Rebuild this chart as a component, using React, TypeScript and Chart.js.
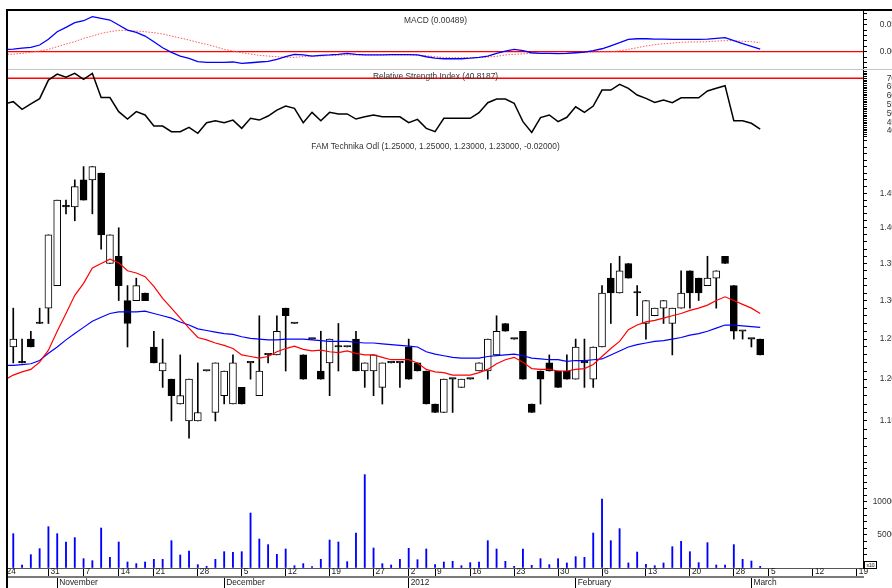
import React, { useEffect, useRef } from 'react';
import { Chart, registerables } from 'chart.js';

Chart.register(...registerables);

// ---------- layout constants ----------
const CANVAS_W = 940;
const PLOT_LEFT = 8;
const PLOT_RIGHT = 863;
const LABEL_RIGHT = 896; // right edge of right-axis labels (cut by the window at 892)
const X_MIN = -0.6;
const X_MAX = 96.7;
const IND_START = -1; // indicator arrays start one trading day before the first candle

// ---------- data ----------
const opens = [1.24, 1.22, 1.25, 1.27, 1.29, 1.32, 1.43, 1.43, 1.47, 1.47, 1.48, 1.35, 1.36, 1.30, 1.30, 1.31, 1.24, 1.21, 1.20, 1.17, 1.15, 1.15, 1.21, 1.16, 1.18, 1.17, 1.19, 1.22, 1.18, 1.23, 1.23, 1.29, 1.27, 1.23, 1.25, 1.21, 1.22, 1.24, 1.24, 1.25, 1.21, 1.21, 1.19, 1.22, 1.22, 1.24, 1.22, 1.21, 1.17, 1.16, 1.20, 1.19, 1.20, 1.21, 1.21, 1.23, 1.27, 1.25, 1.26, 1.17, 1.21, 1.22, 1.21, 1.21, 1.20, 1.22, 1.20, 1.24, 1.33, 1.31, 1.35, 1.31, 1.27, 1.28, 1.29, 1.27, 1.29, 1.34, 1.33, 1.32, 1.33, 1.36, 1.32, 1.26, 1.25, 1.25];
const highs = [1.29, 1.25, 1.26, 1.29, 1.39, 1.44, 1.44, 1.47, 1.49, 1.49, 1.48, 1.39, 1.40, 1.32, 1.33, 1.31, 1.26, 1.25, 1.20, 1.23, 1.20, 1.22, 1.21, 1.22, 1.21, 1.23, 1.19, 1.22, 1.28, 1.23, 1.28, 1.29, 1.27, 1.23, 1.25, 1.26, 1.25, 1.27, 1.24, 1.26, 1.22, 1.23, 1.22, 1.22, 1.22, 1.25, 1.22, 1.21, 1.17, 1.20, 1.20, 1.20, 1.20, 1.22, 1.25, 1.28, 1.27, 1.25, 1.26, 1.17, 1.21, 1.23, 1.21, 1.23, 1.25, 1.25, 1.24, 1.32, 1.35, 1.36, 1.35, 1.32, 1.30, 1.29, 1.30, 1.29, 1.34, 1.34, 1.33, 1.36, 1.34, 1.36, 1.32, 1.26, 1.25, 1.25];
const lows = [1.22, 1.22, 1.24, 1.27, 1.27, 1.32, 1.42, 1.41, 1.44, 1.42, 1.37, 1.35, 1.30, 1.24, 1.30, 1.30, 1.22, 1.19, 1.15, 1.17, 1.13, 1.15, 1.21, 1.15, 1.17, 1.17, 1.17, 1.20, 1.18, 1.22, 1.23, 1.21, 1.27, 1.20, 1.25, 1.20, 1.18, 1.21, 1.24, 1.21, 1.19, 1.18, 1.17, 1.22, 1.19, 1.20, 1.21, 1.17, 1.16, 1.16, 1.16, 1.19, 1.20, 1.21, 1.20, 1.23, 1.26, 1.25, 1.20, 1.16, 1.17, 1.21, 1.19, 1.20, 1.20, 1.19, 1.19, 1.24, 1.27, 1.31, 1.33, 1.28, 1.25, 1.28, 1.27, 1.23, 1.29, 1.29, 1.30, 1.32, 1.29, 1.35, 1.25, 1.25, 1.24, 1.23];
const closes = [1.25, 1.22, 1.24, 1.27, 1.39, 1.44, 1.43, 1.46, 1.44, 1.49, 1.39, 1.39, 1.32, 1.27, 1.32, 1.30, 1.22, 1.22, 1.18, 1.18, 1.20, 1.16, 1.21, 1.22, 1.21, 1.22, 1.17, 1.22, 1.21, 1.23, 1.26, 1.28, 1.27, 1.20, 1.25, 1.20, 1.25, 1.24, 1.24, 1.21, 1.22, 1.23, 1.22, 1.22, 1.22, 1.20, 1.21, 1.17, 1.16, 1.20, 1.20, 1.20, 1.20, 1.22, 1.25, 1.26, 1.26, 1.25, 1.20, 1.16, 1.20, 1.21, 1.19, 1.20, 1.24, 1.22, 1.24, 1.31, 1.31, 1.34, 1.33, 1.31, 1.30, 1.29, 1.30, 1.29, 1.31, 1.31, 1.31, 1.33, 1.34, 1.35, 1.26, 1.26, 1.25, 1.23];

const maFast = [1.199, 1.205, 1.209, 1.212, 1.221, 1.236, 1.26, 1.283, 1.307, 1.323, 1.344, 1.35, 1.356, 1.351, 1.34, 1.337, 1.332, 1.319, 1.303, 1.29, 1.277, 1.264, 1.252, 1.249, 1.245, 1.242, 1.238, 1.23, 1.228, 1.226, 1.228, 1.234, 1.238, 1.241, 1.237, 1.235, 1.236, 1.234, 1.233, 1.235, 1.232, 1.23, 1.23, 1.227, 1.224, 1.224, 1.224, 1.22, 1.212, 1.209, 1.208, 1.205, 1.205, 1.205, 1.208, 1.212, 1.219, 1.224, 1.227, 1.221, 1.213, 1.212, 1.212, 1.21, 1.21, 1.212, 1.213, 1.218, 1.228, 1.238, 1.247, 1.262, 1.268, 1.272, 1.274, 1.277, 1.28, 1.283, 1.287, 1.29, 1.294, 1.30, 1.305, 1.30, 1.295, 1.29, 1.283];
const maSlow = [1.217, 1.217, 1.218, 1.219, 1.223, 1.232, 1.24, 1.249, 1.257, 1.265, 1.273, 1.278, 1.283, 1.285, 1.285, 1.285, 1.286, 1.283, 1.28, 1.277, 1.272, 1.268, 1.263, 1.261, 1.259, 1.257, 1.256, 1.253, 1.251, 1.25, 1.249, 1.249, 1.25, 1.25, 1.25, 1.249, 1.248, 1.247, 1.247, 1.247, 1.246, 1.245, 1.245, 1.244, 1.243, 1.242, 1.241, 1.24, 1.234, 1.231, 1.229, 1.227, 1.226, 1.226, 1.226, 1.228, 1.229, 1.23, 1.231, 1.229, 1.226, 1.225, 1.224, 1.224, 1.222, 1.223, 1.223, 1.224, 1.225, 1.23, 1.235, 1.24, 1.243, 1.245, 1.247, 1.248, 1.25, 1.252, 1.255, 1.257, 1.26, 1.264, 1.268, 1.268, 1.267, 1.266, 1.265];

const macdLine = [0.004, 0.0048, 0.0065, 0.008, 0.0124, 0.023, 0.037, 0.045, 0.0537, 0.0574, 0.0648, 0.0618, 0.0587, 0.0494, 0.040, 0.0359, 0.029, 0.0185, 0.0074, -0.0011, -0.008, -0.0122, -0.0185, -0.0196, -0.0196, -0.0196, -0.019, -0.0215, -0.0204, -0.019, -0.0178, -0.0141, -0.0093, -0.0048, -0.006, -0.008, -0.0067, -0.006, -0.0048, -0.003, -0.0048, -0.006, -0.006, -0.006, -0.0055, -0.0055, -0.0055, -0.006, -0.0093, -0.0117, -0.013, -0.013, -0.013, -0.012, -0.0104, -0.008, -0.003, 0.0013, 0.0044, 0.0019, -0.0019, -0.003, -0.003, -0.0035, -0.003, -0.0019, -0.0006, 0.0019, 0.0055, 0.011, 0.0167, 0.023, 0.024, 0.024, 0.0235, 0.0235, 0.023, 0.023, 0.023, 0.023, 0.0235, 0.0248, 0.026, 0.0204, 0.0148, 0.010, 0.0049];
const macdSignal = [-0.005, -0.0045, -0.003, -0.001, 0.0013, 0.0044, 0.0093, 0.0143, 0.0185, 0.0248, 0.029, 0.034, 0.037, 0.0396, 0.0396, 0.0383, 0.037, 0.0352, 0.0328, 0.029, 0.0254, 0.0217, 0.0174, 0.0137, 0.0093, 0.0044, 0.0013, -0.0019, -0.0043, -0.0067, -0.008, -0.0093, -0.0104, -0.0104, -0.009, -0.008, -0.008, -0.007, -0.0065, -0.006, -0.006, -0.006, -0.006, -0.006, -0.006, -0.006, -0.006, -0.0065, -0.0075, -0.0093, -0.0105, -0.011, -0.011, -0.011, -0.0108, -0.010, -0.0085, -0.006, -0.0048, -0.004, -0.003, -0.003, -0.003, -0.003, -0.0025, -0.002, -0.0015, -0.0005, 0.0, 0.0, 0.0015, 0.0044, 0.0074, 0.0106, 0.013, 0.0148, 0.016, 0.0174, 0.018, 0.018, 0.0185, 0.0198, 0.0204, 0.0204, 0.0192, 0.0185, 0.0167];

const rsiValues = [55.5, 56.7, 52.3, 55.4, 58.4, 69, 72.4, 70.6, 72.8, 69.4, 72.8, 59, 59, 51, 46.8, 51, 49.1, 42.8, 42.8, 39.6, 39.6, 42.1, 38.7, 44.7, 45.8, 44.7, 46.2, 41.5, 47.2, 46.2, 48.5, 51.9, 54.2, 52.9, 44.7, 50.6, 45.8, 50.6, 49.7, 49.7, 46.8, 48.1, 49.1, 48.1, 48.1, 48.1, 44.7, 46.6, 41.5, 39.6, 47.2, 47.2, 47.2, 47.2, 50.4, 56.1, 58.2, 58.2, 55.8, 45.3, 39.2, 47.6, 49.1, 45.3, 47.8, 53.8, 50.6, 54.2, 63.3, 63.3, 66.6, 64.3, 60.5, 58.6, 56.3, 57.6, 56.1, 58.9, 58.9, 58.9, 62.8, 64.3, 65.8, 45.8, 45.8, 44.4, 41.1];

const volumes = [5200, 455, 2020, 2930, 6260, 5200, 3940, 4600, 1410, 1110, 6060, 1620, 3940, 910, 660, 910, 1310, 1310, 4140, 1970, 2580, 505, 250, 1310, 2470, 2370, 2470, 8330, 4390, 3540, 2070, 2880, 350, 660, 200, 1310, 4240, 3940, 960, 5300, 14140, 3030, 660, 455, 1310, 2980, 1260, 2880, 505, 910, 1010, 350, 810, 910, 4140, 2880, 1010, 250, 2880, 400, 1410, 505, 1410, 760, 1720, 1620, 5300, 10450, 4140, 5960, 760, 2420, 555, 350, 760, 3230, 4040, 2470, 810, 3840, 455, 455, 3540, 1310, 1060, 250];

const weekTickIdx = [-1, 4, 8, 12, 16, 21, 26, 31, 36, 41, 45, 48, 52, 57, 62, 67, 72, 77, 82, 86, 91, 96];
const weekTickLabels = ['24', '31', '7', '14', '21', '28', '5', '12', '19', '27', '2', '9', '16', '23', '30', '6', '13', '20', '28', '5', '12', '19'];
const monthTickIdx = [5, 24, 45, 64, 84];
const monthTickLabels = ['November', 'December', '2012', 'February', 'March'];

const macdMajor = [0, 0.05];
const rsiMajor = [40, 45, 50, 55, 60, 65, 70];
const priceMajor = [1.15, 1.2, 1.25, 1.3, 1.35, 1.4, 1.45];
const volumeMajor = [5000, 10000];

const macdTitle = 'MACD (0.00489)';
const rsiTitle = 'Relative Strength Index (40.8187)';
const priceTitle = 'FAM Technika Odl (1.25000, 1.25000, 1.23000, 1.23000, -0.02000)';

// ---------- helpers ----------
const FONT_FAMILY = '"Liberation Sans", Arial, Helvetica, sans-serif';
const FONT_SIZE = 8.4;
const tickFont = { family: FONT_FAMILY, size: FONT_SIZE };

function stepTicks(min: number, max: number, step: number, decimals: number) {
  const out: number[] = [];
  for (let k = Math.ceil(min / step - 1e-9); k * step <= max + 1e-9; k++) out.push(+(k * step).toFixed(decimals));
  return out;
}

function series(arr: number[], start: number) {
  return arr.map((v, i) => ({ x: i + start, y: v }));
}

function hline(v: number) {
  return [{ x: X_MIN, y: v }, { x: X_MAX, y: v }];
}

function hiddenX() {
  return { type: 'linear', axis: 'x', min: X_MIN, max: X_MAX, bounds: 'data', display: false, offset: false, grid: { offset: false } };
}

function rightAxis(o: any) {
  return {
    type: o.type || 'linear',
    position: 'right',
    min: o.min,
    max: o.max,
    bounds: 'data',
    beginAtZero: false,
    afterBuildTicks: (s: any) => { s.ticks = o.tickValues.map((v: number) => ({ value: v })); },
    afterFit: (s: any) => { s.width = LABEL_RIGHT - PLOT_RIGHT; s.paddingTop = 0; s.paddingBottom = 0; },
    border: { display: true, color: '#000', width: 1 },
    grid: { drawOnChartArea: false, drawTicks: true, tickLength: 4, color: '#000', tickWidth: 1 },
    ticks: {
      autoSkip: false,
      maxRotation: 0,
      font: tickFont,
      color: '#333',
      crossAlign: 'far',
      padding: 4,
      callback: (value: number) => {
        const m = o.majors.find((v: number) => Math.abs(v - value) < 1e-7);
        return m === undefined ? '' : o.fmt(m);
      },
    },
  };
}

function baseOptions(padTop: number, scales: any) {
  return {
    responsive: false,
    maintainAspectRatio: false,
    animation: false,
    events: [],
    layout: { padding: { left: PLOT_LEFT, right: CANVAS_W - LABEL_RIGHT, top: padTop, bottom: 0 } },
    elements: { line: { tension: 0, fill: false }, point: { radius: 0 } },
    plugins: { legend: { display: false }, tooltip: { enabled: false }, title: { display: false } },
    scales,
  };
}

// ---------- chart configs ----------
function makeMacd() {
  return {
    type: 'line',
    data: {
      datasets: [
        { data: series(macdLine, IND_START), borderColor: '#0000ff', borderWidth: 1.3, pointRadius: 0 },
        { data: series(macdSignal, IND_START), borderColor: '#ff5a5a', borderWidth: 1, borderDash: [1.5, 1.5], pointRadius: 0 },
        { data: hline(0), borderColor: '#ff0000', borderWidth: 1.2, pointRadius: 0 },
      ],
    },
    options: baseOptions(11, {
      x: hiddenX(),
      y: rightAxis({ min: -0.032, max: 0.0754, tickValues: stepTicks(-0.032, 0.0754, 0.01, 2), majors: macdMajor, fmt: (v: number) => v.toFixed(2) }),
    }),
  };
}

function makeRsi() {
  return {
    type: 'line',
    data: {
      datasets: [
        { data: series(rsiValues, IND_START), borderColor: '#000', borderWidth: 1.5, pointRadius: 0 },
        { data: hline(70), borderColor: '#ff0000', borderWidth: 1.5, pointRadius: 0 },
      ],
    },
    options: baseOptions(0, {
      x: hiddenX(),
      y: rightAxis({ min: 36.0, max: 75.3, tickValues: stepTicks(36, 75.3, 1, 0), majors: rsiMajor, fmt: (v: number) => String(v) }),
    }),
  };
}

function makePrice() {
  const bodies = opens.map((o, i) => ({ x: i, y: [o, closes[i]] }));
  const bodyColors = opens.map((o, i) => (closes[i] > o ? '#ffffff' : '#000000'));
  const wicks = lows.map((l, i) => ({ x: i, y: [l, highs[i]] }));
  return {
    type: 'bar',
    data: {
      datasets: [
        { type: 'line', data: series(maFast, IND_START), borderColor: '#ff0000', borderWidth: 1.2, pointRadius: 0, order: 0 },
        { type: 'line', data: series(maSlow, IND_START), borderColor: '#0000ff', borderWidth: 1.2, pointRadius: 0, order: 0 },
        { type: 'bar', data: bodies, backgroundColor: bodyColors, borderColor: '#000', borderWidth: 1, borderSkipped: false, barThickness: 7, minBarLength: 1.5, grouped: false, order: 1 },
        { type: 'bar', data: wicks, backgroundColor: '#000', borderWidth: 0, barThickness: 1, grouped: false, order: 2 },
      ],
    },
    options: baseOptions(0, {
      x: hiddenX(),
      y: rightAxis({ type: 'logarithmic', min: 1.1052, max: 1.534, tickValues: stepTicks(1.1052, 1.534, 0.01, 2), majors: priceMajor, fmt: (v: number) => v.toFixed(2) }),
    }),
  };
}

function makeVolume() {
  return {
    type: 'bar',
    data: {
      datasets: [
        { data: volumes.map((v, i) => ({ x: i, y: v })), backgroundColor: '#0000ff', borderWidth: 0, barThickness: 1.2, grouped: false },
      ],
    },
    options: baseOptions(0, {
      x: {
        type: 'linear', axis: 'x', position: 'bottom', weight: 0, min: X_MIN, max: X_MAX, bounds: 'data', offset: false,
        afterBuildTicks: (s: any) => { s.ticks = weekTickIdx.map((v) => ({ value: v })); },
        afterFit: (s: any) => { s.height = 9; s.paddingLeft = 0; s.paddingRight = 0; },
        border: { display: true, color: '#555', width: 1 },
        grid: {
          offset: false, drawOnChartArea: false, drawTicks: true, tickLength: 9, tickWidth: 1,
          tickColor: (ctx: any) => (ctx.tick && ctx.tick.value < X_MIN ? 'rgba(0,0,0,0)' : '#000'),
        },
        ticks: {
          autoSkip: false, maxRotation: 0, minRotation: 0, align: 'start', padding: -10, labelOffset: 2,
          font: tickFont, color: '#222', callback: (_v: number, i: number) => weekTickLabels[i],
        },
      },
      xm: {
        type: 'linear', axis: 'x', position: 'bottom', weight: 1, min: X_MIN, max: X_MAX, bounds: 'data', offset: false,
        afterBuildTicks: (s: any) => { s.ticks = monthTickIdx.map((v) => ({ value: v })); },
        afterFit: (s: any) => { s.height = 11; s.paddingLeft = 0; s.paddingRight = 0; },
        border: { display: true, color: '#7a7a7a', width: 2 },
        grid: { offset: false, drawOnChartArea: false, drawTicks: true, tickLength: 11, tickWidth: 1, tickColor: '#000' },
        ticks: {
          autoSkip: false, maxRotation: 0, minRotation: 0, align: 'start', padding: -10, labelOffset: 2,
          font: tickFont, color: '#222', callback: (_v: number, i: number) => monthTickLabels[i],
        },
      },
      y: rightAxis({ min: 0, max: 16360, tickValues: stepTicks(0, 16360, 1000, 0), majors: volumeMajor, fmt: (v: number) => String(v) }),
    }),
  };
}

// ---------- components ----------
function ChartCanvas({ top, height, make }: { top: number; height: number; make: () => any }) {
  const ref = useRef<HTMLCanvasElement | null>(null);
  useEffect(() => {
    if (!ref.current) return;
    const chart = new Chart(ref.current, make());
    return () => chart.destroy();
  }, []);
  return (
    <canvas
      ref={ref}
      width={CANVAS_W}
      height={height}
      style={{ position: 'absolute', left: 0, top, width: CANVAS_W, height, display: 'block' }}
    />
  );
}

const titleStyle = (top: number): React.CSSProperties => ({
  position: 'absolute',
  left: PLOT_LEFT,
  width: PLOT_RIGHT - PLOT_LEFT,
  top,
  textAlign: 'center',
  fontFamily: FONT_FAMILY,
  fontSize: FONT_SIZE,
  lineHeight: '10px',
  color: '#333',
  whiteSpace: 'nowrap',
  pointerEvents: 'none',
});

export default function App() {
  return (
    <div style={{ position: 'fixed', left: 0, top: 0, width: 892, height: 588, overflow: 'hidden', background: '#fff' }}>
      <ChartCanvas top={0} height={69} make={makeMacd} />
      <ChartCanvas top={69} height={69} make={makeRsi} />
      <ChartCanvas top={138} height={322} make={makePrice} />
      <ChartCanvas top={460} height={128} make={makeVolume} />
      <div style={{ position: 'absolute', left: 6, top: 9, width: 886, height: 2, background: '#000' }} />
      <div style={{ position: 'absolute', left: 6, top: 9, width: 2, height: 579, background: '#000' }} />
      <div style={{ position: 'absolute', left: PLOT_LEFT, top: 69, width: 884, height: 1, background: '#c4c4c4' }} />
      <div style={titleStyle(15)}>{macdTitle}</div>
      <div style={titleStyle(71)}>{rsiTitle}</div>
      <div style={titleStyle(141)}>{priceTitle}</div>
      <div
        style={{
          position: 'absolute', left: 864, top: 561, width: 11, height: 6, border: '1px solid #000',
          fontFamily: FONT_FAMILY, fontSize: 5, lineHeight: '6px', textAlign: 'center', color: '#000', background: '#fff',
        }}
      >
        x10
      </div>
    </div>
  );
}
